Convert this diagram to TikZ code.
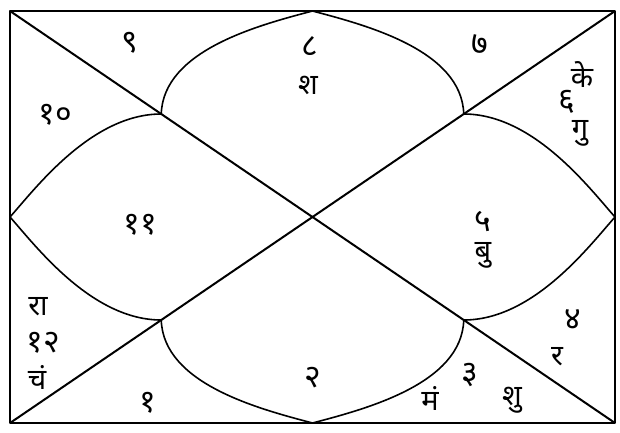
\documentclass[tikz,border=0pt]{standalone}
\usepackage{fontspec}
\newfontfamily\devafont[Script=Devanagari]{Noto Sans}
\usetikzlibrary{calc}

\begin{document}
\begin{tikzpicture}[
      x=1pt, y=-1pt,
      sign/.style={font=\devafont\bfseries\fontsize{32}{34}\selectfont, inner sep=1pt},
      graha/.style={font=\devafont\fontsize{29}{31}\selectfont, inner sep=1pt},
      frame/.style={line width=2pt},
      petal/.style={line width=1.6pt},
      line join=round
    ]
    \useasboundingbox (0,0) rectangle (620,432);
    % Corners, edge midpoints and quarter points on the diagonals
    \coordinate (nw) at (10,11);
    \coordinate (ne) at (615,11);
    \coordinate (sw) at (10,423);
    \coordinate (se) at (615,423);
    \coordinate (n) at ($(nw)!0.5!(ne)$);
    \coordinate (s) at ($(sw)!0.5!(se)$);
    \coordinate (w) at ($(nw)!0.5!(sw)$);
    \coordinate (e) at ($(ne)!0.5!(se)$);
    \coordinate (qnw) at ($(nw)!0.25!(se)$);
    \coordinate (qse) at ($(nw)!0.75!(se)$);
    \coordinate (qsw) at ($(sw)!0.25!(ne)$);
    \coordinate (qne) at ($(sw)!0.75!(ne)$);
    % Outer frame and the two diagonals
    \draw[frame] (nw) rectangle (se);
    \draw[frame] (nw) -- (se);
    \draw[frame] (sw) -- (ne);
    % Four lotus petals
    \draw[petal] (qnw) .. controls +(2,-64) and +(-53,14) .. (n)
                       .. controls +(53,14) and +(-2,-64) .. (qne);
    \draw[petal] (qsw) .. controls +(2,64) and +(-53,-14) .. (s)
                       .. controls +(53,-14) and +(-2,64) .. (qse);
    \draw[petal] (qnw) .. controls +(-70,0) and +(25,-28) .. (w)
                       .. controls +(25,28) and +(-70,0) .. (qsw);
    \draw[petal] (qne) .. controls +(70,0) and +(-25,-28) .. (e)
                       .. controls +(-25,28) and +(70,0) .. (qse);
    % Sign numbers of the houses
    \foreach \name/\pos/\txt in {h1/{148,403}/१, h2/{313,378}/२, h3/{470,375}/३,
        h4/{573,320}/४, h5/{483,222}/५, h6/{567,102}/६, h7/{480,45}/७,
        h8/{310,47}/८, h9/{130,43}/९, h10/{55,115}/१०, h11/{140,225}/११,
        h12/{43,343}/१२}{
      \node[sign] (\name) at (\pos) {\txt};
    }
    % Planets
    \foreach \name/\pos/\txt in {ke/{582,75}/के, gu/{580,133}/गु, sha/{308,85}/श,
        bu/{483,255}/बु, ra/{557,357}/र, shu/{512,400}/शु, ma/{430,398}/मं,
        rahu/{38,307}/रा, cha/{37,377}/चं}{
      \node[graha] (\name) at (\pos) {\txt};
    }
  \end{tikzpicture}
\end{document}
